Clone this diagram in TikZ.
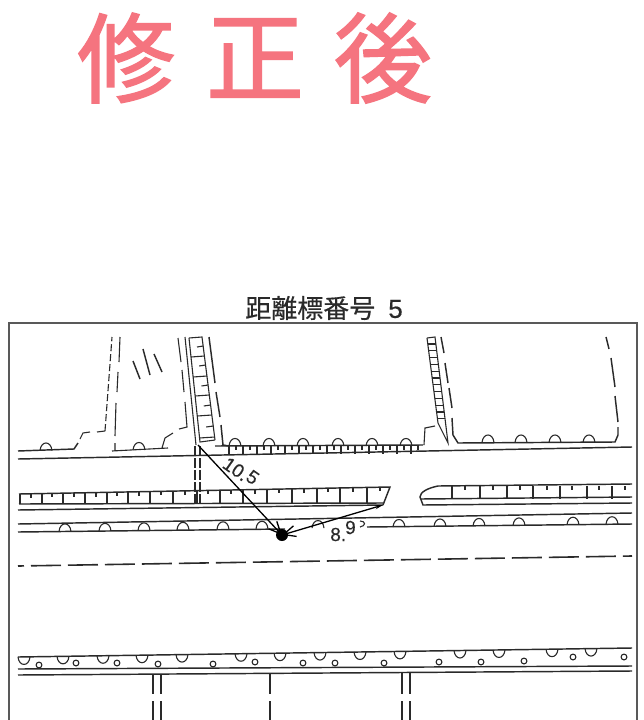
\documentclass[tikz,border=0pt]{standalone}
\usepackage{fontspec}
\usetikzlibrary{arrows.meta}
\newfontfamily\cjk[FakeBold=0.4]{Noto Sans CJK JP}
\newfontfamily\cjkbig[FakeBold=1.5]{Noto Sans CJK JP}
\setmainfont[FakeBold=0.3]{Liberation Sans}
\definecolor{ink}{HTML}{2A2A2A}
\definecolor{stamp}{HTML}{F5747F}
\newcommand{\humpup}[2]{\draw[thin line] (#1-6,#2) .. controls (#1-5,#2-10) and (#1+5,#2-10) .. (#1+6,#2);}
\newcommand{\cupdn}[2]{\draw[thin line] (#1-6,#2) .. controls (#1-5,#2+10) and (#1+5,#2+10) .. (#1+6,#2);}
\tikzset{
  thin line/.style={draw=ink,line width=1.1pt},
  road line/.style={draw=ink,line width=1.45pt},
  frame line/.style={draw=black!65,line width=1.3pt},
  stamp char/.style={text=stamp,font=\cjkbig\fontsize{98}{98}\selectfont,inner sep=0pt},
  dim text/.style={text=ink,font=\fontsize{19}{19}\selectfont,inner sep=0pt},
  arrow line/.style={draw=black,line width=1.3pt},
}
\begin{document}
\begin{tikzpicture}[x=1pt,y=-1pt]
\useasboundingbox (0,0) rectangle (644,720);
\fill[white] (0,0) rectangle (644,720);
% stamp
\node[stamp char] (s1) at (126,58) {修};
\node[stamp char] (s2) at (255,58) {正};
\node[stamp char] (s3) at (383,58) {後};
% title
\node[inner sep=0pt,text=ink,font=\fontsize{26}{26}\selectfont] (title) at (324,308) {{\cjk 距離標番号}\hspace{13pt}5};
% frame
\draw[frame line] (9,721) -- (9,323) -- (637,323) -- (637,721);
% upper left boundary
\draw[road line] (18,451) -- (74,449) -- (78,443);
\draw[thin line] (80,439) -- (83,433) -- (90,432) (97,432) -- (105,431);
\draw[thin line,dash pattern=on 7pt off 3pt] (105,431) -- (112,337);
\draw[thin line] (115,436) -- (116,403) (117,392) -- (118,372) (119,362) -- (120,337);
\draw[thin line] (115,443) -- (115,451) (112,451) -- (168,448) (162,448) -- (165,438) -- (173,433) (179,429) -- (187,427) -- (185,402) (184,392) -- (182,370) (181,362) -- (178,338);
\humpup{46}{450.5}
\humpup{139}{450}
% hatch
\draw[road line] (133,361) -- (140,379) (143,349) -- (150,375) (154,354) -- (162,372);
% left vertical strip
\draw[thin line] (185,337) -- (196,445);
\draw[thin line] (189,338) -- (202,337) -- (215,440) (189,338) -- (200,442) -- (215,440);
\foreach \yy in {357,377,396,416,438}{
  \draw[thin line] ({189+(\yy-338)*0.106},\yy) -- ({202+(\yy-337)*0.126},\yy-1);
}
\foreach \yy in {347,366,386,406,427}{
  \draw[thin line] ({196+(\yy-338)*0.115},\yy) -- ({202+(\yy-337)*0.126},\yy-1);
}
% dash right of strip
\draw[road line] (209,337) -- (215,383) (216,392) -- (220,417) (221,425) -- (223,445) -- (229,446);
% strip along top
\draw[road line] (215,446) -- (423,445);
\foreach \x in {229,243,257,271,285,299,313,327,341,355,369,383,397,411}{
  \draw[thin line] (\x,446) -- (\x,454);
  \draw[thin line] (\x+7,446) -- (\x+7,450);
}
\foreach \x in {235,269,303,338,372,406}{\humpup{\x}{446}}
% road top line
\draw[road line] (18,459) -- (632,447);
% double dashed across road
\draw[thin line,dash pattern=on 10pt off 2pt] (195,446) -- (195,503) (200,446) -- (200,503);
% right vertical strip
\draw[thin line] (427,338) -- (435,337) -- (448,443) -- (438,423) -- (427,338);
\foreach \t in {0.07,0.15,0.23,0.31,0.39,0.47,0.55,0.63,0.71,0.79,0.87,0.95}{
  \draw[thin line] ({427+11*\t},{338+85*\t}) -- ({435+10*\t},{338+85*\t});
}
\draw[thin line] (424,445) -- (425,428) -- (435,426);
\draw[road line] (441,337) -- (444,353) (445,363) -- (448,383) (449,388) -- (452,408) (452,418) -- (453,435) -- (458,443) -- (615,442) -- (618,435) -- (618,427) (615,396) -- (618,422) (611,358) -- (615,387) (606,337) -- (609,349);
\foreach \x in {488,521,555,589}{\humpup{\x}{442.5}}
% middle left island
\draw[road line] (19,494) -- (390,487) -- (383,505);
\draw[road line] (19,504) -- (383,503);
\draw[road line] (18,510) -- (383,505);
\foreach \x in {20,42,63,85,107,128,150,173,197,220,243,267,292,317,340,367}{
  \draw[thin line] (\x,{494-(\x-19)*0.0189}) -- (\x,{504-(\x-19)*0.003});
}
\foreach \x in {31,52,74,96,117,139,161,185,208,231,255,279,304,328,353,380}{
  \draw[thin line] (\x,{494-(\x-19)*0.0189}) -- (\x,{498-(\x-19)*0.0189});
}
% middle right island
\draw[road line] (632,484) -- (438,486) .. controls (428,488) and (420,492) .. (420,497) -- (423,505) -- (632,503);
\draw[road line] (421,499) -- (632,497);
\foreach \x in {452,480,507,533,560,587,612}{\draw[thin line] (\x,486) -- (\x,499);}
\foreach \x in {465,493,520,547,572,599,625}{\draw[thin line] (\x,486) -- (\x,490);}
% lower lines of road
\draw[road line] (18,524) -- (632,513);
\draw[road line] (18,532) -- (285,529) (367,527) -- (632,524);
\foreach \x in {65,105,144,183,223,262,318,399,440,479,519,573,612}{
  \pgfmathsetmacro{\yb}{532-(\x-18)*0.0131}
  \humpup{\x}{\yb}
}
\draw[thin line] (360,521) .. controls (366,521) and (366,526) .. (360,527);
% centre dashed
\draw[road line,line width=1.6pt,dash pattern=on 30pt off 7pt,dash phase=24pt] (18,566) -- (632,556);
% bottom band
\draw[road line] (18,657) -- (632,648);
\draw[road line] (18,669) -- (632,666);
\draw[road line] (18,675) -- (632,671);
\foreach \x in {24,63,103,142,182,241,280,320,360,400,460,499,552,591}{
  \pgfmathsetmacro{\yb}{657-(\x-18)*0.0147}
  \cupdn{\x}{\yb}
}
\foreach \x/\y in {39/665,76/663,117/663,158/664,213/664,255/662,303/663,335/663,384/663,439/662,481/662,524/661,573/657,624/657}{
  \draw[thin line] (\x,\y) circle [radius=2.9];
}
% bottom verticals
\draw[thin line] (153,675) -- (153,694) (153,701) -- (153,721) (161,675) -- (161,694) (161,701) -- (161,721);
\draw[thin line] (270,673) -- (270,694) (270,701) -- (270,721);
\draw[thin line] (402,673) -- (402,694) (402,701) -- (402,721) (410,673) -- (410,694) (410,701) -- (410,721);
% dimensions
\node[circle,fill=black,minimum size=12pt,inner sep=0pt] (pt) at (282,535) {};
\coordinate (a) at (198,445);
\coordinate (b) at (383,505);
\draw[arrow line,-{Straight Barb[length=12pt,width=11pt]}] (a) -- (pt.center);
\draw[arrow line,{Stealth[length=8pt,width=4pt]}-{Straight Barb[length=12pt,width=11pt]}] (b) -- (pt.center);
\node[dim text,rotate=-35] (d1) at (241,471) {10.\raisebox{3pt}{5}};
\node[dim text] (d2) at (343,531) {8.\raisebox{7pt}{\kern-1pt 9}};
\end{tikzpicture}
\end{document}
